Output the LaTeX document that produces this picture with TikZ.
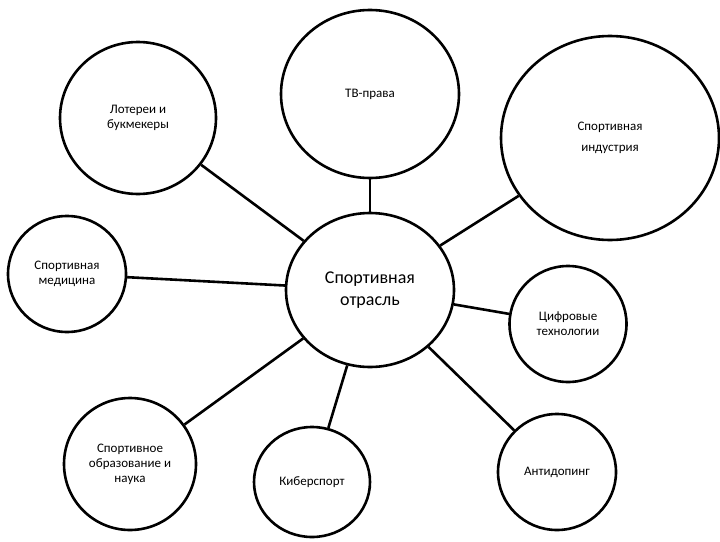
\documentclass[tikz,border=0pt]{standalone}
\usepackage{fontspec}
\setmainfont{Carlito}
\usetikzlibrary{shapes.geometric}

\tikzset{
  topic/.style={draw, ellipse, line width=2.6pt, inner sep=0pt, align=center,
    font=\fontsize{13}{15}\selectfont},
  hub/.style={topic, font=\fontsize{18}{22}\selectfont},
  link/.style={line width=2.6pt}
}

\begin{document}
\begin{tikzpicture}[x=1pt,y=-1pt]
\useasboundingbox (0,0) rectangle (720,541);

\node[hub, minimum width=168pt, minimum height=154pt] (otrasl) at (370,290) {Спортивная\\отрасль};

\node[topic, minimum width=178pt, minimum height=168pt] (tv) at (370,94) {ТВ-права};
\node[topic, minimum width=218pt, minimum height=204pt, font=\fontsize{13}{21}\selectfont] (industry) at (610,138) {Спортивная\\индустрия};
\node[topic, minimum width=156pt, minimum height=152pt] (loto) at (138,118) {Лотереи и\\букмекеры};
\node[topic, minimum width=118pt, minimum height=116pt] (medicine) at (67,274) {Спортивная\\медицина};
\node[topic, minimum width=117pt, minimum height=116pt] (digital) at (568,324) {Цифровые\\технологии};
\node[topic, minimum width=132pt, minimum height=132pt] (edu) at (130,464) {Спортивное\\образование и\\наука};
\node[topic, minimum width=116pt, minimum height=110pt] (cyber) at (312,482) {Киберспорт};
\node[topic, minimum width=118pt, minimum height=116pt] (antidoping) at (557,472) {Антидопинг};

\draw[link] (otrasl) -- (tv);
\draw[link] (otrasl) -- (industry);
\draw[link] (otrasl) -- (loto);
\draw[link] (otrasl) -- (medicine);
\draw[link] (otrasl) -- (digital);
\draw[link] (otrasl) -- (edu);
\draw[link] (otrasl) -- (cyber);
\draw[link] (otrasl) -- (antidoping);
\end{tikzpicture}
\end{document}
